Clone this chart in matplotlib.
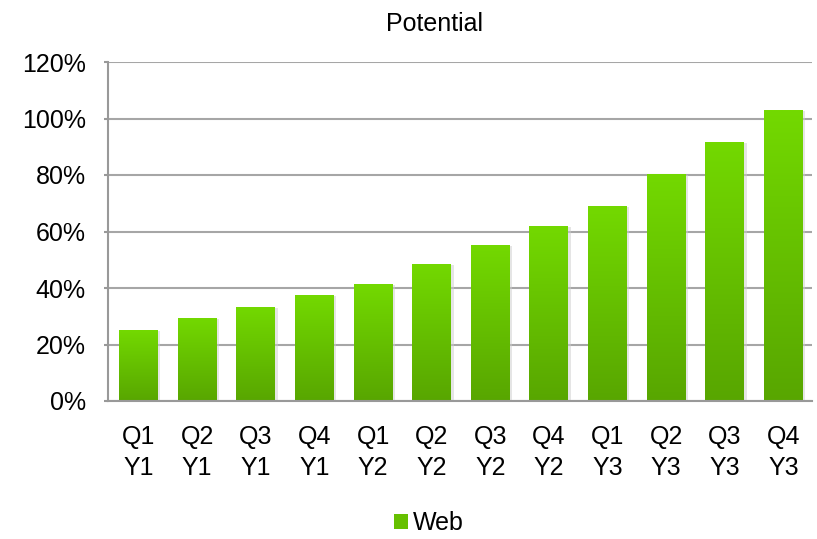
import numpy as np
import matplotlib
matplotlib.use("Agg")
import matplotlib.pyplot as plt
from matplotlib.colors import LinearSegmentedColormap
from matplotlib.patches import Rectangle

categories = ["Q1\nY1", "Q2\nY1", "Q3\nY1", "Q4\nY1", "Q1\nY2", "Q2\nY2",
              "Q3\nY2", "Q4\nY2", "Q1\nY3", "Q2\nY3", "Q3\nY3", "Q4\nY3"]
web = [25.1, 29.4, 33.3, 37.5, 41.4, 48.5, 55.2, 61.9, 69.0, 80.4, 91.7, 103.0]
yticks = [0, 20, 40, 60, 80, 100, 120]
ytick_labels = ["0%", "20%", "40%", "60%", "80%", "100%", "120%"]

plt.rcParams['font.family'] = ['Liberation Sans', 'DejaVu Sans']
FS = 18

fig = plt.figure(figsize=(8.17, 5.39), dpi=100)
ax = fig.add_axes([108/817, 1 - 401/539, (812-108)/817, (401-62)/539])

x = np.arange(len(categories))
bars = ax.bar(x, web, width=0.665, color='#66c000', zorder=3, label='Web')

cmap = LinearSegmentedColormap.from_list('g', ['#58a600', '#73d900'])
grad = np.linspace(0, 1, 256).reshape(-1, 1)
for b in bars:
    bx, by, bw, bh = b.get_x(), b.get_y(), b.get_width(), b.get_height()
    sh = Rectangle((bx + 0.04, by), bw, bh - 0.3, facecolor='#cccccc', alpha=0.5,
                   edgecolor='none', zorder=2)
    ax.add_patch(sh)
    im = ax.imshow(grad, cmap=cmap, origin='lower', aspect='auto',
                   extent=[bx, bx + bw, by, by + bh], zorder=4)
    im.set_clip_path(b)

ax.set_xlim(-0.52, len(categories) - 0.515)
ax.set_ylim(0, 120)
ax.set_yticks(yticks)
ax.set_yticklabels(ytick_labels, fontsize=FS)
ax.set_xticks(x)
ax.set_xticklabels(categories, fontsize=FS, linespacing=1.4)
ax.tick_params(axis='x', length=0, pad=17)
ax.tick_params(axis='y', length=3, width=1.5, color='#999999', pad=13)

ax.grid(axis='y', color='#a6a6a6', linewidth=1.5, zorder=1)
for s in ['top', 'right']:
    ax.spines[s].set_visible(False)
for s in ['left', 'bottom']:
    ax.spines[s].set_color('#999999')
    ax.spines[s].set_linewidth(1.5)
    ax.spines[s].set_zorder(5)

ax.set_title("Potential", fontsize=FS, pad=22, x=(434.5 - 108) / 704)

handle = Rectangle((0, 0), 1, 1, facecolor='#66c000', edgecolor='none')
fig.legend([handle], ['Web'], loc='center', bbox_to_anchor=(429/817, 1 - 523/539),
           frameon=False, fontsize=FS, handlelength=0.55, handleheight=0.55,
           handletextpad=0.2)

fig.savefig("out.png", dpi=100)
